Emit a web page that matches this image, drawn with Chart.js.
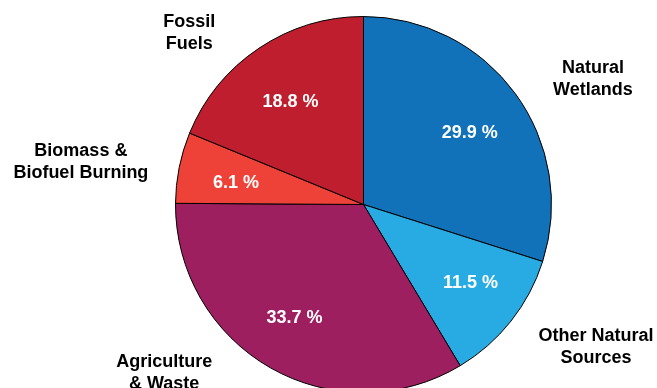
<!DOCTYPE html>
<html>
<head>
<meta charset="utf-8">
<script src="https://cdn.jsdelivr.net/npm/chart.js@4/dist/chart.umd.min.js"></script>
<style>
  html, body { margin: 0; padding: 0; background: #fff; overflow: hidden; }
  #wrap { width: 657px; height: 396px; position: relative; }
</style>
</head>
<body>
<div id="wrap"><canvas id="methanePie"></canvas></div>
<script>
// methane sources, share of total (%)
const categories = [
  ["Natural", "Wetlands"],
  ["Other Natural", "Sources"],
  ["Agriculture", "& Waste"],
  ["Biomass &", "Biofuel Burning"],
  ["Fossil", "Fuels"],
];
const shares = [29.9, 11.5, 33.7, 6.1, 18.8];
const sliceColors = ["#1172b9", "#28abe2", "#9e1f5f", "#ee4137", "#be1e2d"];

// label placement: angle clockwise from top (deg), distance in radii
const nameAngles = [61.4, 121.5, 229.7, 278.5, 314.5];
const nameDist = [1.39, 1.45, 1.39, 1.52, 1.30];
const pctAngles = [55.8, 126, 211.6, 279.8, 324.7];
const pctDist = [0.683, 0.704, 0.701, 0.688, 0.672];

const FONT = "bold 18px 'Liberation Sans', Arial, sans-serif";

const pieLabels = {
  id: "pieLabels",
  afterDatasetsDraw(chart) {
    const ctx = chart.ctx;
    const meta = chart.getDatasetMeta(0);
    const toRad = (deg) => (deg - 90) * Math.PI / 180;
    ctx.save();
    ctx.font = FONT;
    ctx.textAlign = "center";
    ctx.textBaseline = "middle";
    meta.data.forEach((arc, i) => {
      const { x, y, outerRadius } = arc.getProps(["x", "y", "outerRadius"], true);

      const pa = toRad(pctAngles[i]);
      const pr = outerRadius * pctDist[i];
      ctx.fillStyle = "#ffffff";
      ctx.fillText(shares[i].toFixed(1) + " %", x + Math.cos(pa) * pr, y + Math.sin(pa) * pr + 1);

      const a = toRad(nameAngles[i]);
      const d = outerRadius * nameDist[i];
      const cx = x + Math.cos(a) * d;
      const cy = y + Math.sin(a) * d;
      const lines = categories[i];
      const lh = 22;
      ctx.fillStyle = "#000000";
      lines.forEach((t, k) => {
        ctx.fillText(t, cx, cy + (k - (lines.length - 1) / 2) * lh);
      });
    });
    ctx.restore();
  },
};

new Chart(document.getElementById("methanePie"), {
  type: "pie",
  data: {
    labels: categories.map((c) => c.join(" ")),
    datasets: [{
      data: shares,
      backgroundColor: sliceColors,
      borderColor: "#000000",
      borderWidth: 1,
      hoverBorderWidth: 1,
      hoverOffset: 0,
    }],
  },
  options: {
    responsive: true,
    maintainAspectRatio: false,
    animation: false,
    layout: { padding: { top: 16, bottom: 3, left: 175, right: 105 } },
    plugins: {
      legend: { display: false },
      tooltip: { enabled: false },
    },
  },
  plugins: [pieLabels],
});
</script>
</body>
</html>
